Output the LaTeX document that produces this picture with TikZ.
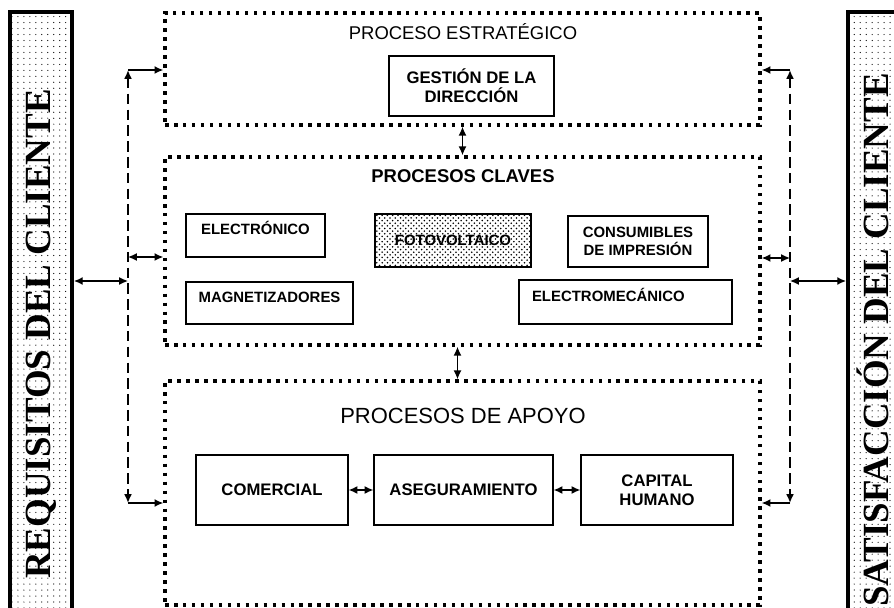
\documentclass[tikz,border=0pt]{standalone}
\usepackage{fontspec}
\setmainfont{Liberation Sans}
\newfontfamily\sidefont{Liberation Serif}
\usetikzlibrary{arrows.meta,patterns,patterns.meta}

\begin{document}
\begin{tikzpicture}[x=0.02cm,y=-0.02cm,
  every node/.style={font=\bfseries\fontsize{9.5}{11}\selectfont},
  dotbox/.style={draw,line width=2pt,dash pattern=on 2pt off 3.1pt,minimum width=11.9cm},
  procbox/.style={draw,line width=0.7pt,align=center,inner sep=2pt},
  smallbox/.style={procbox,font=\bfseries\fontsize{8.5}{10}\selectfont},
  raised/.style={text height=6.1pt,text depth=#1},
  sidebar/.style={draw,line width=2.2pt,pattern={Dots[distance=3.4pt,radius=0.35pt]},rotate=90,font=\sidefont\bfseries\fontsize{21}{24}\selectfont},
  title/.style={font=\fontsize{10.5}{12}\selectfont},
  link/.style={line width=0.8pt,{Latex[length=5pt,width=4.5pt]}-{Latex[length=5pt,width=4.5pt]}},
  tolink/.style={line width=0.8pt,-{Latex[length=5pt,width=4.5pt]}},
  dashlink/.style={line width=1.3pt,dash pattern=on 6pt off 3pt,{Latex[length=5pt,width=4.5pt]}-{Latex[length=5pt,width=4.5pt]}}]
\useasboundingbox (0,0) rectangle (894,608);

% bloques de procesos
\node[dotbox,minimum height=2.24cm] (strat)  at (462.5,69)  {};
\node[dotbox,minimum height=3.76cm] (claves) at (462.5,251) {};
\node[dotbox,minimum height=4.48cm] (apoyo)  at (462.5,493) {};
\node[title] (strattitle)  at (463,32)  {PROCESO ESTRATÉGICO};
\node[title,font=\bfseries\fontsize{10.5}{12}\selectfont] (clavestitle) at (463,176) {PROCESOS CLAVES};
\node[title,font=\fontsize{12.5}{14}\selectfont] (apoyotitle) at (463,416) {PROCESOS DE APOYO};

\node[procbox,minimum width=3.3cm,minimum height=1.2cm] (gestion) at (471.5,86) {GESTIÓN DE LA\\DIRECCIÓN};

\node[smallbox,raised=6.8pt,minimum width=2.78cm,minimum height=0.86cm] (electronico) at (255.5,235.5) {ELECTRÓNICO};
\node[smallbox,pattern=crosshatch dots,minimum width=3.12cm,minimum height=1.06cm] (fotovoltaico) at (453,240.5) {FOTOVOLTAICO};
\node[smallbox,minimum width=2.8cm,minimum height=1.02cm] (consumibles) at (638,241.5) {CONSUMIBLES\\DE IMPRESIÓN};
\node[smallbox,raised=6.8pt,minimum width=3.34cm,minimum height=0.84cm] (magnet) at (269.5,303) {MAGNETIZADORES};
\node[smallbox,raised=6.8pt,align=left,text width=3.74cm,inner xsep=0.26cm,minimum height=0.88cm] (electromec) at (625.5,302) {ELECTROMECÁNICO};

\node[procbox,minimum width=3.04cm,minimum height=1.4cm] (comercial) at (272,490)   {COMERCIAL};
\node[procbox,minimum width=3.58cm,minimum height=1.4cm] (asegura)   at (463.5,490) {ASEGURAMIENTO};
\node[procbox,minimum width=3.04cm,minimum height=1.4cm] (capital)   at (657,490)   {CAPITAL\\HUMANO};

% cliente
\node[sidebar,minimum width=12.88cm,minimum height=1.24cm] (req) at (41,334)  {REQUISITOS DEL CLIENTE};
\node[sidebar,minimum width=13.12cm,minimum height=1.0cm]  (sat) at (873,340) {SATISFACCIÓN DEL CLIENTE};

% enlaces
\coordinate (lt) at (128,70);
\coordinate (lm) at (128,257);
\coordinate (lr) at (128,281);
\coordinate (lb) at (128,503);
\coordinate (rt) at (790,70);
\coordinate (rm) at (790,258);
\coordinate (rr) at (790,281);
\coordinate (rb) at (790,503);

\draw[dashlink] (lt) -- (lb);
\draw[tolink] (lt) -- (lt -| strat.west);
\draw[tolink] (lb) -- (lb -| apoyo.west);
\draw[link] (lm) -- (lm -| claves.west);
\draw[link] (req.south |- lr) -- (lr);

\draw[dashlink] (rt) -- (rb);
\draw[tolink] (rt) -- (rt -| strat.east);
\draw[tolink] (rb) -- (rb -| apoyo.east);
\draw[link] (rm) -- (rm -| claves.east);
\draw[link] (rr) -- (sat.north |- rr);

\draw[link] (strat) -- (claves);
\draw[link] ([xshift=-0.1cm]claves.south) -- ([xshift=-0.1cm]apoyo.north);
\draw[link] (comercial) -- (asegura);
\draw[link] (asegura) -- (capital);
\end{tikzpicture}
\end{document}
